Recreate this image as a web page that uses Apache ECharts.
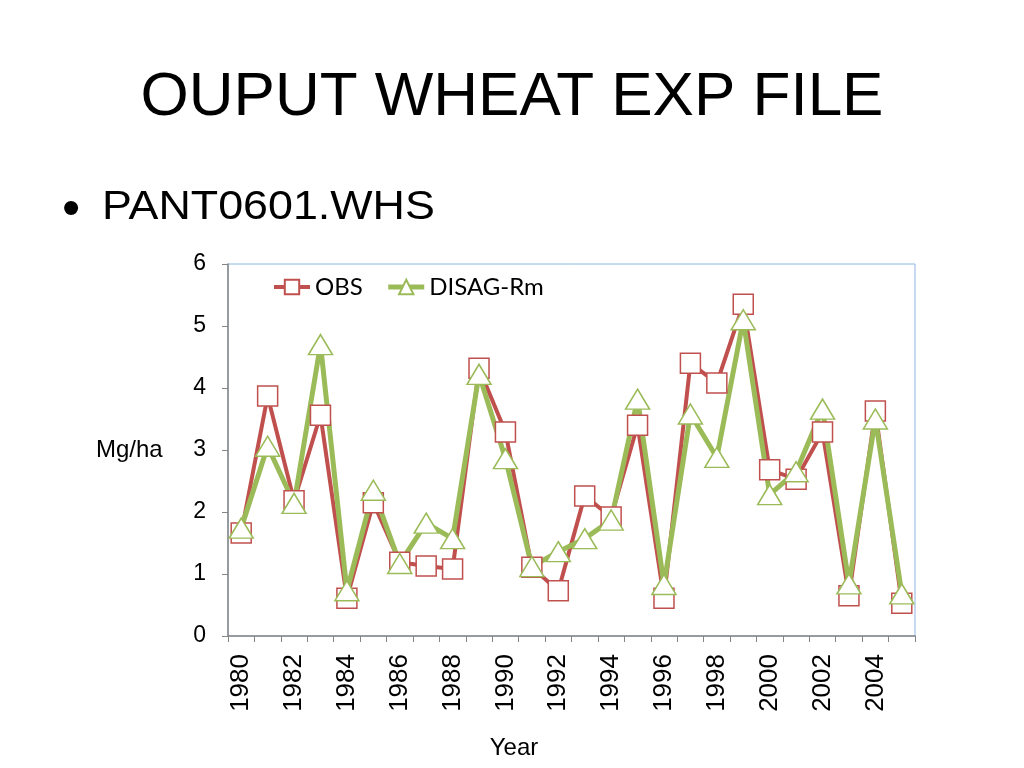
<!DOCTYPE html>
<html>
<head>
<meta charset="utf-8">
<script src="https://cdn.jsdelivr.net/npm/echarts@6/dist/echarts.min.js"></script>
<style>html,body{margin:0;padding:0;background:#fff;}#c{width:1024px;height:768px;}</style>
</head>
<body>
<div id="c"></div>
<script>
var years = ['1980','1981','1982','1983','1984','1985','1986','1987','1988','1989','1990','1991','1992','1993','1994','1995','1996','1997','1998','1999','2000','2001','2002','2003','2004','2005'];
var obs = [1.66,3.87,2.18,3.56,0.61,2.15,1.19,1.13,1.08,4.32,3.29,1.11,0.73,2.26,1.92,3.40,0.61,4.40,4.08,5.35,2.68,2.53,3.29,0.65,3.63,0.53];
var disag = [1.74,3.06,2.14,4.70,0.73,2.35,1.17,1.82,1.57,4.22,2.86,1.12,1.36,1.57,1.87,3.82,0.83,3.58,2.88,5.10,2.28,2.65,3.66,0.84,3.50,0.68];
var yTicks = [0,1,2,3,4,5,6];

var chart = echarts.init(document.getElementById('c'));
var font = 'Liberation Sans, Arial, sans-serif';
chart.setOption({
  animation: false,
  backgroundColor: '#ffffff',
  graphic: [
    {type:'text', left:'center', top:67, style:{text:'OUPUT WHEAT EXP FILE', font:'62px "Liberation Sans", Arial, sans-serif', fill:'#000'}},
    {type:'text', x:71, y:211, style:{text:'\u2022', font:'52px "Liberation Sans", Arial, sans-serif', fill:'#000', align:'center', verticalAlign:'middle'}},
    {type:'text', x:102, y:208, scaleX:1.12, style:{text:'PANT0601.WHS', font:'40px "Liberation Sans", Arial, sans-serif', fill:'#000', verticalAlign:'middle', align:'left'}},
    {type:'text', x:96, y:450, style:{text:'Mg/ha', font:'24px "Liberation Sans", Arial, sans-serif', fill:'#000', verticalAlign:'middle', align:'left'}},
    {type:'text', x:514, y:748, style:{text:'Year', font:'24px "Liberation Sans", Arial, sans-serif', fill:'#000', verticalAlign:'middle', align:'center'}}
  ],
  legend: {
    left: 272, top: 275, padding: 0,
    itemWidth: 36, itemHeight: 18, itemGap: 23,
    textStyle: {fontFamily: 'Lato, "Open Sans", sans-serif', fontSize: 24, color: '#000'},
    data: [
      {name: 'OBS', lineStyle: {width: 4, color: '#c0504d'}},
      {name: 'DISAG-Rm', lineStyle: {width: 5, color: '#9bbb59'}}
    ]
  },
  grid: {left: 228, right: 109, top: 264, bottom: 132, show: true, borderColor: '#8eb4e3', borderWidth: 1, containLabel: false},
  xAxis: {
    type: 'category', data: years, boundaryGap: true,
    axisLine: {lineStyle: {color: '#868686', width: 1.5}},
    axisTick: {show: true, interval: 0, length: 6, lineStyle: {color: '#868686'}},
    axisLabel: {interval: 1, rotate: 90, fontFamily: font, fontSize: 26, color: '#000', margin: 18}
  },
  yAxis: {
    type: 'value', min: 0, max: 6, interval: 1,
    splitLine: {show: false},
    axisLine: {show: true, lineStyle: {color: '#868686', width: 1.5}},
    axisTick: {show: true, length: 6, lineStyle: {color: '#868686'}},
    axisLabel: {fontFamily: font, fontSize: 23, color: '#000', margin: 22,
      formatter: function(v){ return yTicks.indexOf(v) >= 0 ? String(v) : ''; }}
  },
  series: [
    {name: 'OBS', type: 'line', data: obs, symbol: 'rect', symbolSize: 20, showAllSymbol: true,
     lineStyle: {color: '#c0504d', width: 4},
     itemStyle: {color: '#ffffff', borderColor: '#c0504d', borderWidth: 1.5},
     color: '#c0504d'},
    {name: 'DISAG-Rm', type: 'line', data: disag, symbol: 'triangle', symbolSize: [24, 20], showAllSymbol: true,
     lineStyle: {color: '#9bbb59', width: 5},
     itemStyle: {color: '#ffffff', borderColor: '#9bbb59', borderWidth: 1.5},
     color: '#9bbb59'}
  ]
});
</script>
</body>
</html>
